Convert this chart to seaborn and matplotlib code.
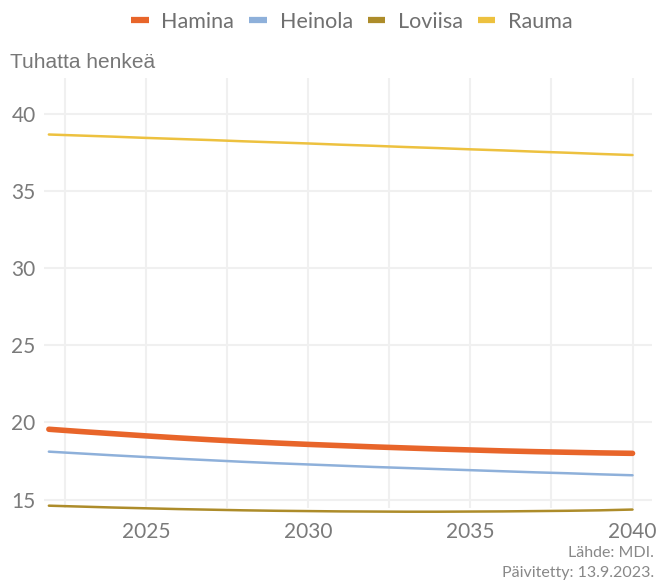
import pandas as pd
import seaborn as sns
import matplotlib.pyplot as plt
from matplotlib.lines import Line2D

# data
years = list(range(2022, 2041))
hamina = [19.55, 19.40, 19.26, 19.12, 18.99, 18.87, 18.76, 18.66, 18.57, 18.49,
          18.41, 18.34, 18.27, 18.21, 18.15, 18.10, 18.06, 18.02, 17.99]
heinola = [18.10, 17.98, 17.86, 17.75, 17.64, 17.54, 17.44, 17.35, 17.27, 17.19,
           17.11, 17.04, 16.97, 16.90, 16.83, 16.76, 16.70, 16.63, 16.57]
loviisa = [14.60, 14.54, 14.48, 14.43, 14.38, 14.34, 14.30, 14.27, 14.25, 14.23,
           14.22, 14.21, 14.21, 14.22, 14.23, 14.25, 14.27, 14.30, 14.35]
rauma = [38.64, 38.57, 38.50, 38.42, 38.35, 38.28, 38.20, 38.13, 38.06, 37.98,
         37.91, 37.83, 37.76, 37.68, 37.61, 37.53, 37.46, 37.38, 37.31]
names = ['Hamina', 'Heinola', 'Loviisa', 'Rauma']
colors = ['#E8652A', '#8EB0DA', '#AD8C2A', '#EDC13F']
widths = [4.0, 1.8, 1.8, 1.8]

df = pd.DataFrame({'vuosi': years, 'Hamina': hamina, 'Heinola': heinola,
                   'Loviisa': loviisa, 'Rauma': rauma})
df = df.melt(id_vars='vuosi', var_name='kunta', value_name='arvo')

sns.set_style('white')
plt.rcParams['font.family'] = ['Lato', 'DejaVu Sans']

fig = plt.figure(figsize=(6.58, 5.81), dpi=100)
ax = fig.add_axes([44/658, 1 - 508/581, (652-44)/658, (508-78)/581])

for n, c, w in zip(names, colors, widths):
    sns.lineplot(data=df[df['kunta'] == n], x='vuosi', y='arvo', color=c,
                 linewidth=w, ax=ax, clip_on=False)

ax.set_xlim(2021.85, 2040.6)
ax.set_ylim(14.45, 42.3)
ax.set_xticks([2025, 2030, 2035, 2040])
ax.set_xticks([2022.5, 2027.5, 2032.5, 2037.5], minor=True)
ax.set_yticks([15, 20, 25, 30, 35, 40])
ax.grid(True, which='both', color='#f0f0f0', linewidth=1.5)
ax.set_axisbelow(True)
for s in ax.spines.values():
    s.set_visible(False)
ax.tick_params(which='both', length=0, labelsize=15, labelcolor='#7a7a7a', pad=6)
ax.tick_params(axis='x', pad=10)
ax.set_xlabel('')
ax.set_ylabel('')

# legend
handles = [Line2D([0], [0], color=c, linewidth=4.5, solid_capstyle='butt') for c in colors]
leg = fig.legend(handles, names, loc='center', bbox_to_anchor=(352/658, 1 - 22/581),
                 ncol=4, frameon=False, fontsize=15.5, handlelength=0.8,
                 columnspacing=0.7, handletextpad=0.6)
for t in leg.get_texts():
    t.set_color('#707070')

fig.text(10/658, 1 - 62/581, 'Tuhatta henkeä', fontsize=15, color='#777777',
         family=['Liberation Sans', 'DejaVu Sans'], va='center')
fig.text(654/658, 1 - 553/581, 'Lähde: MDI.', fontsize=11.5, color='#888888',
         ha='right', va='center')
fig.text(654/658, 1 - 573/581, 'Päivitetty: 13.9.2023.', fontsize=11.5, color='#888888',
         ha='right', va='center')

fig.savefig('out.png', dpi=100)
